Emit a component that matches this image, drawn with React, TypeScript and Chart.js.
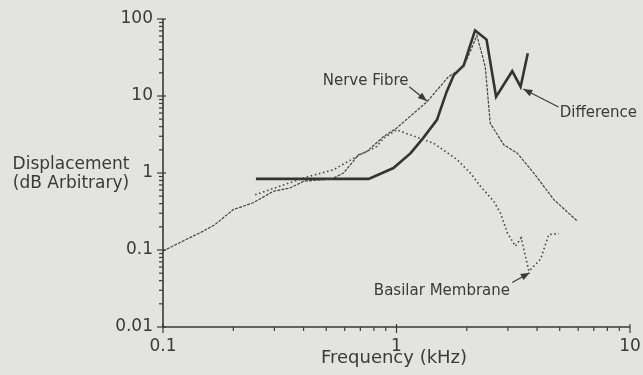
import { useEffect, useRef } from 'react';
import { Chart, registerables } from 'chart.js';

Chart.register(...registerables);

// ---- Data (frequency in kHz, displacement arbitrary) ----
const diffFreq = [0.25, 0.76, 0.97, 1.15, 1.3, 1.49, 1.64, 1.76, 1.94, 2.17, 2.43, 2.67, 3.13, 3.4, 3.65];
const diffVal = [0.84, 0.84, 1.16, 1.81, 2.84, 4.9, 11.4, 18.7, 25, 71, 54, 9.8, 21, 13.2, 36];

const nerveFreq = [0.1, 0.122, 0.149, 0.167, 0.2, 0.243, 0.297, 0.35, 0.4, 0.528, 0.593, 0.687, 0.746, 0.88, 1.0, 1.35, 1.67, 1.94, 2.21, 2.4, 2.52, 2.88, 3.29, 3.87, 4.72, 5.95];
const nerveVal = [0.097, 0.131, 0.176, 0.214, 0.335, 0.41, 0.578, 0.64, 0.78, 0.836, 1.0, 1.72, 1.9, 2.97, 3.82, 8.4, 17.8, 23.9, 61, 23.9, 4.43, 2.32, 1.81, 1.0, 0.45, 0.237];

const basilarFreq = [0.248, 0.413, 0.537, 0.676, 0.824, 0.88, 1.0, 1.44, 1.82, 2.07, 2.29, 2.61, 2.79, 2.98, 3.23, 3.42, 3.69, 4.14, 4.49, 4.96];
const basilarVal = [0.52, 0.89, 1.1, 1.64, 2.21, 2.84, 3.63, 2.44, 1.49, 1.0, 0.67, 0.43, 0.3, 0.168, 0.112, 0.144, 0.053, 0.076, 0.159, 0.163];

const xMajors = [0.1, 1, 10];
const xTickLabels = ['0.1', '1', '10'];
const yMajors = [0.01, 0.1, 1, 10, 100];
const yTickLabels = ['0.01', '0.1', '1', '10', '100'];

const xTitle = 'Frequency (kHz)';
const yTitle = ['Displacement', '(dB Arbitrary)'];

// annotations: label anchor and arrow, in data coordinates
const annotations = [
  { text: 'Nerve Fibre', tx: 0.483, ty: 15.8, x0: 1.134, y0: 13.2, x1: 1.35, y1: 8.6 },
  { text: 'Difference', tx: 5.0, ty: 5.97, x0: 4.94, y0: 7.2, x1: 3.49, y1: 12.3 },
  { text: 'Basilar Membrane', tx: 0.8, ty: 0.0294, x0: 3.13, y0: 0.0378, x1: 3.72, y1: 0.0508 },
];

const INK = '#3a3a3a';
const BG = '#e3e3e1';
const FONT = '"DejaVu Sans", sans-serif';

function decadeTicks(majors: number[]) {
  const out: number[] = [];
  for (let i = 0; i < majors.length; i++) {
    const m = majors[i];
    if (i === majors.length - 1) { out.push(m); break; }
    for (let k = 1; k <= 9; k++) out.push(+(m * k).toPrecision(6));
  }
  return out;
}

function pts(xs: number[], ys: number[]) {
  return xs.map((x, i) => ({ x, y: ys[i] }));
}

function isMajor(v: number, majors: number[]) {
  return majors.some((m) => Math.abs(v - m) / m < 1e-6);
}

const decorPlugin = {
  id: 'decor',
  beforeDraw(chart: any) {
    const ctx = chart.ctx;
    ctx.save();
    ctx.fillStyle = BG;
    ctx.fillRect(0, 0, chart.width, chart.height);
    ctx.restore();
  },
  afterDraw(chart: any) {
    const ctx = chart.ctx;
    const xs = chart.scales.x;
    const ys = chart.scales.y;
    const ca = chart.chartArea;
    ctx.save();
    ctx.strokeStyle = INK;
    ctx.fillStyle = INK;
    ctx.lineWidth = 1.6;
    // axes
    ctx.beginPath();
    ctx.moveTo(ca.left, ca.top);
    ctx.lineTo(ca.left, ca.bottom);
    ctx.lineTo(ca.right, ca.bottom);
    ctx.stroke();
    ctx.lineWidth = 1.2;
    // y ticks
    decadeTicks(yMajors).forEach((v) => {
      const y = ys.getPixelForValue(v);
      const maj = isMajor(v, yMajors);
      ctx.beginPath();
      ctx.moveTo(ca.left - (maj ? 6 : 4), y);
      ctx.lineTo(ca.left + (maj ? 3 : 0), y);
      ctx.stroke();
    });
    decadeTicks(xMajors).forEach((v) => {
      const x = xs.getPixelForValue(v);
      const maj = isMajor(v, xMajors);
      ctx.beginPath();
      ctx.moveTo(x, ca.bottom + (maj ? 6 : 4));
      ctx.lineTo(x, ca.bottom - (maj ? 3 : 0));
      ctx.stroke();
    });
    // titles
    ctx.font = `17px ${FONT}`;
    ctx.textAlign = 'center';
    ctx.textBaseline = 'middle';
    ctx.fillText(yTitle[0], 71, 165);
    ctx.fillText(yTitle[1], 71, 184);
    ctx.font = `18px ${FONT}`;
    ctx.fillText(xTitle, 394, 358);
    // annotations
    ctx.font = `15px ${FONT}`;
    ctx.textAlign = 'left';
    annotations.forEach((a) => {
      ctx.fillText(a.text, xs.getPixelForValue(a.tx), ys.getPixelForValue(a.ty));
      const px0 = xs.getPixelForValue(a.x0);
      const py0 = ys.getPixelForValue(a.y0);
      const px1 = xs.getPixelForValue(a.x1);
      const py1 = ys.getPixelForValue(a.y1);
      ctx.lineWidth = 1.2;
      ctx.beginPath();
      ctx.moveTo(px0, py0);
      ctx.lineTo(px1, py1);
      ctx.stroke();
      const ang = Math.atan2(py1 - py0, px1 - px0);
      const L = 9, W = 3.5;
      ctx.beginPath();
      ctx.moveTo(px1, py1);
      ctx.lineTo(px1 - L * Math.cos(ang) + W * Math.sin(ang), py1 - L * Math.sin(ang) - W * Math.cos(ang));
      ctx.lineTo(px1 - L * Math.cos(ang) - W * Math.sin(ang), py1 - L * Math.sin(ang) + W * Math.cos(ang));
      ctx.closePath();
      ctx.fill();
    });
    ctx.restore();
  },
};

export default function App() {
  const ref = useRef<HTMLCanvasElement | null>(null);
  useEffect(() => {
    if (!ref.current) return;
    const chart = new Chart(ref.current, {
      type: 'line',
      data: {
        datasets: [
          {
            label: 'Basilar Membrane',
            data: pts(basilarFreq, basilarVal),
            borderColor: '#4a4a4a',
            borderWidth: 1.6,
            borderDash: [1.6, 2.6],
            pointRadius: 0,
            tension: 0,
          },
          {
            label: 'Nerve Fibre',
            data: pts(nerveFreq, nerveVal),
            borderColor: '#444444',
            borderWidth: 1.2,
            borderDash: [3, 1.2],
            pointRadius: 0,
            tension: 0,
          },
          {
            label: 'Difference',
            data: pts(diffFreq, diffVal),
            borderColor: '#333333',
            borderWidth: 2.6,
            pointRadius: 0,
            tension: 0,
          },
        ],
      },
      plugins: [decorPlugin],
      options: {
        animation: false,
        responsive: false,
        devicePixelRatio: 1,
        layout: { padding: { top: 19, right: 13, left: 0, bottom: 0 } },
        plugins: { legend: { display: false }, tooltip: { enabled: false } },
        scales: {
          x: {
            type: 'logarithmic',
            min: 0.1,
            max: 10,
            afterBuildTicks: (s: any) => {
              s.ticks = decadeTicks(xMajors).map((v) => ({ value: v }));
            },
            afterFit: (s: any) => {
              s.height = 48;
              s.paddingLeft = 0;
              s.paddingRight = 0;
            },
            grid: { display: false, drawTicks: false },
            border: { display: false },
            ticks: {
              autoSkip: false,
              maxRotation: 0,
              padding: 9,
              color: INK,
              font: { family: FONT, size: 17 },
              callback: (v: any) => {
                const i = xMajors.findIndex((m) => Math.abs(Number(v) - m) / m < 1e-6);
                return i >= 0 ? xTickLabels[i] : '';
              },
            },
          },
          y: {
            type: 'logarithmic',
            min: 0.01,
            max: 100,
            afterBuildTicks: (s: any) => {
              s.ticks = decadeTicks(yMajors).map((v) => ({ value: v }));
            },
            afterFit: (s: any) => {
              s.width = 163;
              s.paddingTop = 0;
              s.paddingBottom = 0;
            },
            grid: { display: false, drawTicks: false },
            border: { display: false },
            ticks: {
              autoSkip: false,
              padding: 10,
              color: INK,
              font: { family: FONT, size: 17 },
              callback: (v: any) => {
                const i = yMajors.findIndex((m) => Math.abs(Number(v) - m) / m < 1e-6);
                return i >= 0 ? yTickLabels[i] : '';
              },
            },
          },
        },
      },
    } as any);
    return () => chart.destroy();
  }, []);
  return (
    <div style={{ position: 'absolute', left: 0, top: 0, width: 643, height: 375, background: BG }}>
      <canvas ref={ref} width={643} height={375} />
    </div>
  );
}
